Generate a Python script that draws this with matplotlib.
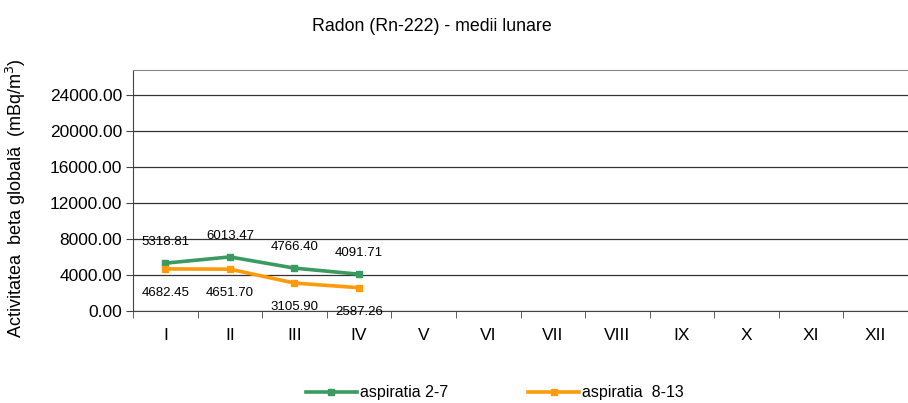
import matplotlib.pyplot as plt
import numpy as np

plt.rcParams['font.family'] = ['Liberation Sans', 'DejaVu Sans']

# Monthly means (mBq/m3)
months = ['I', 'II', 'III', 'IV', 'V', 'VI', 'VII', 'VIII', 'IX', 'X', 'XI', 'XII']
asp_2_7 = [5318.81, 6013.47, 4766.40, 4091.71]
asp_8_13 = [4682.45, 4651.70, 3105.90, 2587.26]
y_ticks = [0, 4000, 8000, 12000, 16000, 20000, 24000]

green = '#3a9a62'
orange = '#ff9a0a'

fig = plt.figure(figsize=(9.08, 4.03), dpi=100)
ax = fig.add_axes([0.1465, 0.2283, 0.8535, 0.598])

x = np.arange(len(months))
ax.plot(x[:len(asp_2_7)], asp_2_7, color=green, lw=2.6, marker='s', ms=5,
        label='aspiratia 2-7')
ax.plot(x[:len(asp_8_13)], asp_8_13, color=orange, lw=2.6, marker='s', ms=5,
        label='aspiratia  8-13')

for xi, v in zip(x, asp_2_7):
    ax.annotate(f'{v:.2f}', (xi, v), xytext=(0, 11), textcoords='offset points',
                ha='center', va='bottom', fontsize=9.5)
for xi, v in zip(x, asp_8_13):
    ax.annotate(f'{v:.2f}', (xi, v), xytext=(0, -13), textcoords='offset points',
                ha='center', va='top', fontsize=9.5)

ax.set_xlim(-0.5, len(months) - 0.5)
ax.set_ylim(0, 26800)
ax.set_yticks(y_ticks)
ax.set_yticklabels([f'{t:.2f}' for t in y_ticks], fontsize=12.5)
ax.set_xticks(x)
ax.set_xticklabels(months, fontsize=12.5)
ax.set_xticks(np.arange(-0.5, len(months)), minor=True)
ax.tick_params(axis='x', which='major', length=0, pad=12)
ax.tick_params(axis='x', which='minor', length=5, direction='out', color='#444444')
ax.tick_params(axis='y', length=5, direction='out', color='#444444', pad=3)

ax.grid(axis='y', color='#333333', lw=0.9)
ax.set_axisbelow(True)
for side in ['left', 'bottom']:
    ax.spines[side].set_color('#444444')
ax.spines['top'].set_color('#888888')
ax.spines['right'].set_visible(False)

ax.set_ylabel('Activitatea  beta globală  (mBq/m$^3$)', fontsize=13)
ax.yaxis.set_label_coords(-0.135, 0.47)

fig.text(0.476, 0.935, 'Radon (Rn-222) - medii lunare', ha='center', va='center',
         fontsize=12.8)

fig.legend(loc='center', bbox_to_anchor=(0.545, 0.025), ncol=2, frameon=False,
           fontsize=11.5, handlelength=3.2, handletextpad=0.2, columnspacing=5.0)

fig.savefig('out.png', dpi=100)
